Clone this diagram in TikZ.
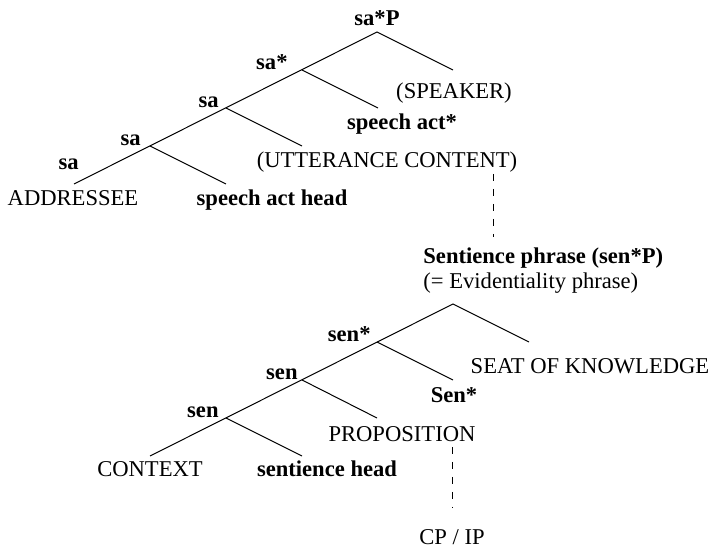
\documentclass[tikz,border=0pt]{standalone}
\usepackage{fontspec}
\setmainfont{Liberation Serif}
\usepackage{tikz}
\usetikzlibrary{positioning}
\newcommand{\tsz}{\fontsize{11.3}{13.5}\selectfont}
\tikzset{
  lab/.style={font=\tsz\bfseries,inner sep=0pt,anchor=base east},
  leaf/.style={font=\tsz,inner sep=0pt,anchor=base},
  bleaf/.style={font=\tsz\bfseries,inner sep=0pt,anchor=base},
  br/.style={line width=0.5pt,black},
  tie/.style={line width=0.5pt,black,dash pattern=on 3.75pt off 3.75pt},
}

\begin{document}
\begin{tikzpicture}[x=0.5pt,y=-0.5pt]
  \useasboundingbox (0,0) rectangle (718,550);
  % speech act layer
  \coordinate (sa0) at (377,32); \coordinate (sa1) at (302,70);
  \coordinate (sa2) at (226,108); \coordinate (sa3) at (150,146);
  \coordinate (saA) at (74,184);
  \coordinate (t0) at (453,70); \coordinate (t1) at (378,108);
  \coordinate (t2) at (302,146); \coordinate (t3) at (226,184);
  \draw[br] (saA)--(sa0)--(t0);
  \foreach \v/\t in {sa1/t1,sa2/t2,sa3/t3}
    {\draw[br] (\v)--(\t);}
  \node[bleaf](saP) at (377,26){sa*P};
  \node[lab](la1) at (288,70){sa*};
  \node[lab](la2) at (219,108){sa};
  \node[lab](la3) at (141,146){sa};
  \node[lab](la4) at (79,170){sa};
  \node[leaf](spk) at (454,99){(SPEAKER)};
  \node[bleaf](sact) at (402,130){speech act*};
  \node[leaf](utt) at (387,168){(UTTERANCE CONTENT)};
  \node[bleaf](sahd) at (272,206){speech act head};
  \node[leaf](addr) at (73,206){ADDRESSEE};
  % link down to sentience layer
  \coordinate (u1) at (493,174); \coordinate (u2) at (493,237);
  \draw[tie] (u1)--(u2);
  \node[bleaf,anchor=base west](senP) at (423,264){Sentience phrase (sen*P)};
  \node[leaf,anchor=base west](evid) at (423,289){(= Evidentiality phrase)};
  % sentience layer
  \coordinate (se0) at (453,304); \coordinate (se1) at (377,342);
  \coordinate (se2) at (302,380); \coordinate (se3) at (226,418);
  \coordinate (seC) at (150,456);
  \coordinate (s0) at (529,342); \coordinate (s1) at (453,380);
  \coordinate (s2) at (377,418); \coordinate (s3) at (302,456);
  \draw[br] (seC)--(se0)--(s0);
  \foreach \v/\t in {se1/s1,se2/s2,se3/s3}
    {\draw[br] (\v)--(\t);}
  \node[lab](ls1) at (371,342){sen*};
  \node[lab](ls2) at (298,380){sen};
  \node[lab](ls3) at (219,418){sen};
  \node[leaf](seat) at (590,374){SEAT OF KNOWLEDGE};
  \node[bleaf](senS) at (454,403){Sen*};
  \node[leaf](prop) at (402,442){PROPOSITION};
  \node[bleaf](senhd) at (327,477){sentience head};
  \node[leaf](ctx) at (150,477){CONTEXT};
  % down to the clause
  \coordinate (p1) at (452,447); \coordinate (p2) at (452,508);
  \draw[tie] (p1)--(p2);
  \node[leaf](cpip) at (452,545){CP / IP};
\end{tikzpicture}
\end{document}
